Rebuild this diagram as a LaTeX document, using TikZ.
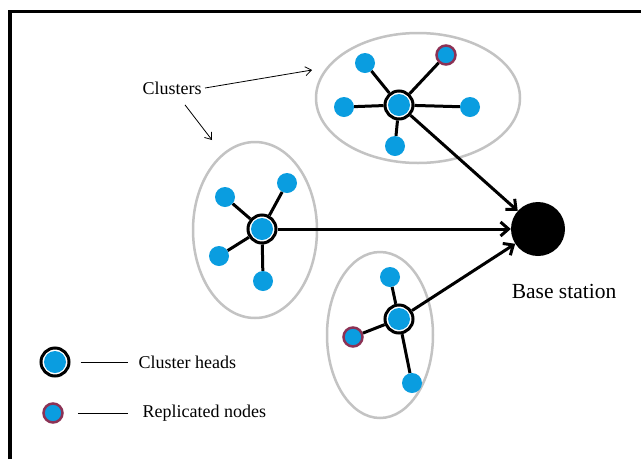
\documentclass[tikz,border=0pt]{standalone}
\usepackage{fontspec}
\setmainfont{Liberation Serif}
\usetikzlibrary{arrows.meta}

\definecolor{nodeblue}{RGB}{10,157,224}
\definecolor{repring}{RGB}{140,50,85}
\definecolor{ringgray}{RGB}{195,195,195}

\tikzset{
  member/.style={circle,fill=nodeblue,inner sep=0pt,minimum size=20pt},
  replica/.style={circle,fill=nodeblue,draw=repring,line width=2.5pt,inner sep=0pt,minimum size=19pt},
  head/.style={circle,draw=black,fill=white,line width=3pt,inner sep=0pt,minimum size=28pt,
    path picture={\fill[nodeblue] (path picture bounding box.center) circle (11pt);}},
  cluster/.style={draw=ringgray,line width=2.5pt},
  link/.style={line width=3pt},
  uplink/.style={line width=3pt,-{Straight Barb[length=8pt,width=14pt]}},
  pointer/.style={line width=0.8pt,-{Straight Barb[length=6pt,width=9pt]}},
  lbl/.style={font=\fontsize{18}{20}\selectfont}
}

\begin{document}
\begin{tikzpicture}[x=1pt,y=-1pt]
        \useasboundingbox (0,0) rectangle (641,459);
        \fill[white] (0,0) rectangle (641,459);

        % frame
        \draw[line width=3.5pt] (10,459) -- (10,11.5) -- (641,11.5);

        % clusters
        \draw[cluster] (418,98) ellipse [x radius=102pt,y radius=65pt];
        \draw[cluster] (255,230) ellipse [x radius=62pt,y radius=88pt];
        \draw[cluster] (380,335) ellipse [x radius=53pt,y radius=83pt];

        % top cluster
        \node [head](h1)at(399,105){};
        \node [member](a1)at(365,63){};
        \node [replica](a2)at(446,55){};
        \node [member](a3)at(344,107){};
        \node [member](a4)at(470,107){};
        \node [member](a5)at(395,146){};

        % middle cluster
        \node [head](h2)at(262,229){};
        \node [member](b1)at(225,197){};
        \node [member](b2)at(287,183){};
        \node [member](b3)at(219,256){};
        \node [member](b4)at(263,281){};

        % bottom cluster
        \node [head](h3)at(399,319){};
        \node [member](c1)at(390,277){};
        \node [replica](c2)at(353,337){};
        \node [member](c3)at(412,383){};

        \draw[link] (h1) -- (a1);
        \draw[link] (h1) -- (a2);
        \draw[link] (h1) -- (a3);
        \draw[link] (h1) -- (a4);
        \draw[link] (h1) -- (a5);

        \draw[link] (h2) -- (b1);
        \draw[link] (h2) -- (b2);
        \draw[link] (h2) -- (b3);
        \draw[link] (h2) -- (b4);

        \draw[link] (h3) -- (c1);
        \draw[link] (h3) -- (c2);
        \draw[link] (h3) -- (c3);

        % base station
        \node [circle,fill=black,minimum size=54pt,inner sep=0pt](bs)at(538,229){};
        \node [font=\fontsize{21.5}{24}\selectfont](bst)at(564,291){Base station};

        \draw[uplink] (h1) -- (bs);
        \draw[uplink] (h2) -- (bs);
        \draw[uplink] (h3) -- (bs);

        % labels
        \node [lbl](clu)at(172,88){Clusters};
        \coordinate (p1) at (312,70);
        \coordinate (p2) at (212,140);
        \draw[pointer] (clu.east) -- (p1);
        \draw[pointer] ([xshift=13pt,yshift=-7pt]clu.south) -- (p2);

        % legend
        \node [head](lh)at(55,362){};
        \node [replica](lr)at(53,413){};
        \node [lbl,anchor=west](lht)at(135,362){Cluster heads};
        \node [lbl,anchor=west](lrt)at(139,413){Replicated nodes};
        \draw[line width=0.8pt] ([xshift=10pt]lh.east) -- ([xshift=-7pt]lht.west);
        \draw[line width=0.8pt] ([xshift=14pt]lr.east) -- ([xshift=-11pt]lrt.west);
    \end{tikzpicture}
\end{document}
